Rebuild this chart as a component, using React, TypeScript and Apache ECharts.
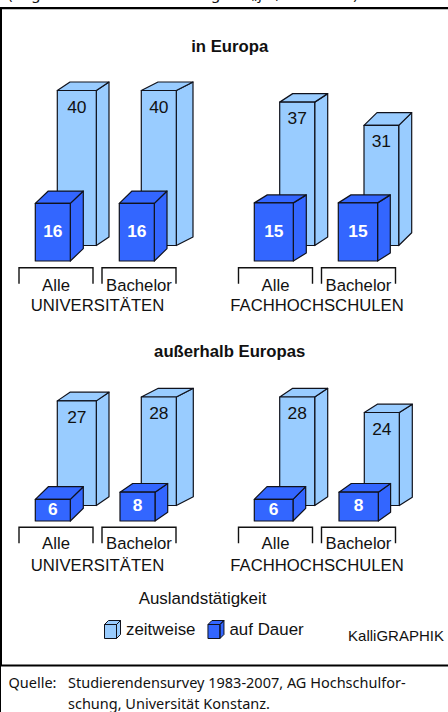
import React, { useEffect, useRef } from "react";
import * as echarts from "echarts";

// Data
const categories = ["Alle", "Bachelor"];
const uniEuropaZeitweise = [40, 40];
const uniEuropaDauer = [16, 16];
const fhEuropaZeitweise = [37, 31];
const fhEuropaDauer = [15, 15];
const uniAussenZeitweise = [27, 28];
const uniAussenDauer = [6, 8];
const fhAussenZeitweise = [28, 24];
const fhAussenDauer = [6, 8];
const seriesNames = ["zeitweise", "auf Dauer"];
const groupNames = ["UNIVERSITÄTEN", "FACHHOCHSCHULEN"];

// Styles and layout
const FONT = '"Liberation Sans", Arial, sans-serif';
const NOTE_FONT = '"Noto Sans", sans-serif';
const LIGHT = "#99CCFF";
const DARK = "#3366FF";
const STROKE = "#10121c";
const TEXT = "#111111";
const FS = 16.7;

type Box = { off: number; w: number; dx: number; dy: number };
type Panel = {
  left: number; top: number; bottom: number; lightMin: number; lightMax: number; darkMax: number;
  light: number[]; dark: number[]; name: string;
  lightBox: Box[]; darkBox: Box[]; labelMargin: number; bracketGap: number;
};

const panels: Panel[] = [
  {
    left: 14.5, top: 59.5, bottom: 261, lightMin: -4, lightMax: 48, darkMax: 56,
    light: uniEuropaZeitweise, dark: uniEuropaDauer, name: groupNames[0], labelMargin: 15.5, bracketGap: 6.7,
    lightBox: [{ off: 1.3, w: 39, dx: 12.7, dy: 8.5 }, { off: 2.3, w: 35, dx: 16.7, dy: 8.5 }],
    darkBox: [{ off: -20.7, w: 35, dx: 13, dy: 12.4 }, { off: -19.7, w: 35, dx: 12.7, dy: 12.4 }],
  },
  {
    left: 234, top: 59.5, bottom: 261, lightMin: -4, lightMax: 48, darkMax: 52,
    light: fhEuropaZeitweise, dark: fhEuropaDauer, name: groupNames[1], labelMargin: 15.5, bracketGap: 6.7,
    lightBox: [{ off: 4.2, w: 35, dx: 13, dy: 8.5 }, { off: 5.5, w: 34.7, dx: 13, dy: 12.7 }],
    darkBox: [{ off: -21.2, w: 39, dx: 13, dy: 8 }, { off: -20.2, w: 39.3, dx: 12.7, dy: 8 }],
  },
  {
    left: 14.5, top: 381.5, bottom: 521, lightMin: -4, lightMax: 32, darkMax: 38.75,
    light: uniAussenZeitweise, dark: uniAussenDauer, name: groupNames[0], labelMargin: 13.5, bracketGap: 6.3,
    lightBox: [{ off: 1.3, w: 39, dx: 12.7, dy: 8.7 }, { off: 2.3, w: 35, dx: 17, dy: 8.7 }],
    darkBox: [{ off: -20.7, w: 35, dx: 13, dy: 12.7 }, { off: -19, w: 35, dx: 12.7, dy: 8.7 }],
  },
  {
    left: 234, top: 381.5, bottom: 521, lightMin: -4, lightMax: 32, darkMax: 38.75,
    light: fhAussenZeitweise, dark: fhAussenDauer, name: groupNames[1], labelMargin: 13.5, bracketGap: 6.3,
    lightBox: [{ off: 4.2, w: 35, dx: 13, dy: 8.7 }, { off: 5.8, w: 35, dx: 13, dy: 8.3 }],
    darkBox: [{ off: -21.2, w: 38.7, dx: 12.7, dy: 12.7 }, { off: -19.5, w: 39.3, dx: 12.3, dy: 8.7 }],
  },
];

const cubeIcon = "path://M0 4H12V18H0ZM0 4L4 0H16L12 4ZM12 4L16 0V14L12 18Z";

function cube(api: any, box: Box, fill: string, labelColor: string, bold: boolean, labelTopOffset: number | null) {
  const i = api.value(0);
  const v = api.value(1);
  const [cx, y0] = api.coord([i, 0]);
  const [, y1] = api.coord([i, v]);
  const x0 = cx + box.off;
  const x1 = x0 + box.w;
  const { dx, dy } = box;
  const shapeStyle = { fill, stroke: STROKE, lineWidth: 1.2, lineJoin: "round" };
  const labelY = labelTopOffset === null ? (y0 + y1) / 2 - 1.2 : y1 + labelTopOffset;
  return {
    type: "group",
    children: [
      { type: "polygon", shape: { points: [[x1, y1], [x1 + dx, y1 - dy], [x1 + dx, y0 - dy], [x1, y0]] }, style: shapeStyle },
      { type: "polygon", shape: { points: [[x0, y1], [x0 + dx, y1 - dy], [x1 + dx, y1 - dy], [x1, y1]] }, style: shapeStyle },
      { type: "rect", shape: { x: x0, y: y1, width: box.w, height: y0 - y1 }, style: shapeStyle },
      {
        type: "text",
        style: {
          x: (x0 + x1) / 2, y: labelY, text: String(v), fill: labelColor, align: "center", verticalAlign: "middle",
          font: `${bold ? "bold " : ""}17.4px ${FONT}`,
        },
      },
    ],
  };
}

function buildOption() {
  const grid: any[] = [];
  const xAxis: any[] = [];
  const yAxis: any[] = [];
  const series: any[] = [];
  panels.forEach((p, k) => {
    grid.push({ left: p.left, width: 166, top: p.top, height: p.bottom - p.top });
    xAxis.push({
      type: "category", gridIndex: k, data: categories, name: p.name, nameLocation: "middle", nameGap: 36,
      nameTextStyle: { fontFamily: FONT, fontSize: FS, color: TEXT },
      axisLine: { show: false }, axisTick: { show: false },
      axisLabel: { interval: 0, margin: p.labelMargin, fontFamily: FONT, fontSize: FS, color: TEXT },
    });
    const lightAxis = yAxis.length;
    yAxis.push({ type: "value", gridIndex: k, min: p.lightMin, max: p.lightMax, show: false });
    const darkAxis = yAxis.length;
    yAxis.push({ type: "value", gridIndex: k, min: 0, max: p.darkMax, show: false });
    series.push({
      type: "custom", name: seriesNames[0], xAxisIndex: k, yAxisIndex: lightAxis, itemStyle: { color: LIGHT },
      encode: { x: 0, y: 1 }, data: p.light.map((v, i) => [i, v]),
      renderItem: (_: any, api: any) => cube(api, p.lightBox[api.value(0)], LIGHT, TEXT, false, 16),
    });
    series.push({
      type: "custom", name: seriesNames[1], xAxisIndex: k, yAxisIndex: darkAxis, itemStyle: { color: DARK },
      encode: { x: 0, y: 1 }, data: p.dark.map((v, i) => [i, v]),
      renderItem: (_: any, api: any) => cube(api, p.darkBox[api.value(0)], DARK, "#ffffff", true, null),
    });
    series.push({
      type: "custom", name: "Klammer", xAxisIndex: k, yAxisIndex: darkAxis, silent: true,
      encode: { x: 0, y: 1 }, data: categories.map((_, i) => [i, 0]),
      renderItem: (_: any, api: any) => {
        const [cx, y0] = api.coord([api.value(0), 0]);
        const y = y0 + p.bracketGap;
        return {
          type: "polyline",
          shape: { points: [[cx - 37, y + 16], [cx - 37, y], [cx + 37, y], [cx + 37, y + 16]] },
          style: { fill: "none", stroke: "#111111", lineWidth: 1.4 },
        };
      },
    });
  });

  const txt = (x: number, y: number, text: string, font: string, align = "left") => ({
    type: "text", x, y,
    style: { text, font, fill: TEXT, align, verticalAlign: "middle" },
  });
  const bar = (x: number, y: number, width: number, height: number) => ({
    type: "rect", shape: { x, y, width, height }, style: { fill: "#000000" },
  });

  return {
    animation: false,
    backgroundColor: "#ffffff",
    grid, xAxis, yAxis, series,
    legend: {
      left: 104, top: 620, itemWidth: 17, itemHeight: 18, itemGap: 12, selectedMode: false,
      padding: 0,
      textStyle: { fontFamily: FONT, fontSize: 16.9, color: TEXT, padding: [3, 0, 0, 0] },
      data: [
        { name: seriesNames[0], icon: cubeIcon, itemStyle: { color: LIGHT, borderColor: STROKE, borderWidth: 1 } },
        { name: seriesNames[1], icon: cubeIcon, itemStyle: { color: DARK, borderColor: STROKE, borderWidth: 1 } },
      ],
    },
    graphic: [
      bar(0, 7, 448, 2.2),
      bar(0, 7, 2, 659),
      bar(0, 664.6, 448, 2),
      bar(0, 666, 1, 46),
      txt(8, -7, "(Angaben in Prozent für Kategorie „ja“, dauerhaft)", `15px ${NOTE_FONT}`),
      txt(229.7, 46.7, "in Europa", `bold 16.7px ${FONT}`, "center"),
      txt(229.7, 351.7, "außerhalb Europas", `bold 16.7px ${FONT}`, "center"),
      txt(202.5, 598, "Auslandstätigkeit", `16.9px ${FONT}`, "center"),
      txt(396, 635.5, "KalliGRAPHIK", `15px ${FONT}`, "center"),
      txt(8.5, 681.5, "Quelle:", `14.5px ${NOTE_FONT}`),
      txt(68, 681.5, "Studierendensurvey 1983-2007, AG Hochschulfor-", `14.5px ${NOTE_FONT}`),
      txt(68, 703, "schung, Universität Konstanz.", `14.5px ${NOTE_FONT}`),
    ],
  };
}

export default function App() {
  const ref = useRef<HTMLDivElement>(null);
  useEffect(() => {
    document.body.style.margin = "0";
    const chart = echarts.init(ref.current!, null, { renderer: "svg" });
    chart.setOption(buildOption() as any);
    return () => chart.dispose();
  }, []);
  return <div ref={ref} style={{ width: 448, height: 712 }} />;
}
